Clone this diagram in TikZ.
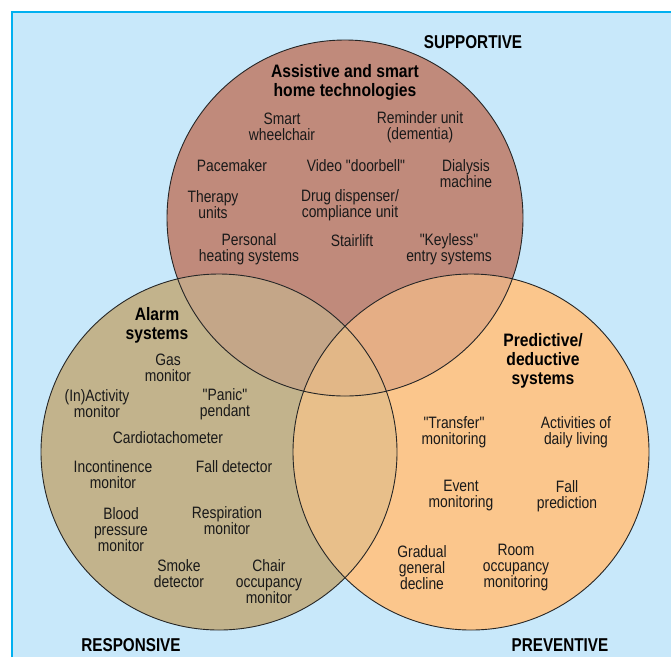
\documentclass[tikz,border=0pt]{standalone}
\usepackage{fontspec}
\setmainfont{Liberation Sans}
\newfontfamily\narrowfont[FakeStretch=0.84]{Liberation Sans}
\newfontfamily\narrowbold[FakeStretch=0.87]{Liberation Sans Bold}
\newfontfamily\cornerbold[FakeStretch=0.82]{Liberation Sans Bold}

\definecolor{panelfill}{HTML}{C8E8FA}
\definecolor{panelline}{HTML}{00B0F0}
\definecolor{supfill}{HTML}{C08A7B}
\definecolor{resfill}{HTML}{C2B38C}
\definecolor{prefill}{HTML}{FBC68C}
\definecolor{supres}{HTML}{C4A688}
\definecolor{suppre}{HTML}{E5AE85}
\definecolor{respre}{HTML}{E8BF8A}
\definecolor{allthree}{HTML}{E2B787}

\tikzset{
  item/.style={align=center, inner sep=0pt, font=\narrowfont\fontsize{16.5}{16}\selectfont, text=black!90},
  heading/.style={align=center, inner sep=0pt, font=\narrowbold\fontsize{18}{19}\selectfont},
  corner/.style={inner sep=0pt, font=\cornerbold\fontsize{18.6}{20}\selectfont},
  ring/.style={draw=black!85, line width=0.9pt},
}

\begin{document}
\begin{tikzpicture}[x=1pt, y=-1pt]
  \useasboundingbox (0,0) rectangle (671,657);

  % panel
  \fill[panelfill] (12,12) rectangle (671,657);
  \draw[panelline, line width=1.5pt] (12,657) -- (12,12) -- (671,12);

  % the three sets
  \coordinate (cs) at (345,218);
  \coordinate (cr) at (219,452);
  \coordinate (cp) at (471,452);
  \def\rad{178pt}

  \fill[supfill] (cs) circle[radius=\rad];
  \fill[resfill] (cr) circle[radius=\rad];
  \fill[prefill] (cp) circle[radius=\rad];
  \begin{scope}
    \clip (cr) circle[radius=\rad];
    \fill[respre] (cp) circle[radius=\rad];
  \end{scope}
  \begin{scope}
    \clip (cs) circle[radius=\rad];
    \fill[supres] (cr) circle[radius=\rad];
    \fill[suppre] (cp) circle[radius=\rad];
    \clip (cr) circle[radius=\rad];
    \fill[allthree] (cp) circle[radius=\rad];
  \end{scope}
  \draw[ring] (cs) circle[radius=\rad];
  \draw[ring] (cr) circle[radius=\rad];
  \draw[ring] (cp) circle[radius=\rad];

  % corner labels
  \node[corner] (lsup) at (473,42.5) {SUPPORTIVE};
  \node[corner] (lres) at (131,645) {RESPONSIVE};
  \node[corner] (lpre) at (560,645) {PREVENTIVE};

  % supportive set
  \node[heading] (hsup) at (345,82) {Assistive and smart\\home technologies};
  \node[item] (s1) at (282,127) {Smart\\wheelchair};
  \node[item] (s2) at (420,127) {Reminder unit\\(dementia)};
  \node[item] (s3) at (232,166) {Pacemaker};
  \node[item] (s4) at (356,166) {Video "doorbell"};
  \node[item] (s5) at (466,174) {Dialysis\\machine};
  \node[item] (s6) at (213,205) {Therapy\\units};
  \node[item] (s7) at (350,205) {Drug dispenser/\\compliance unit};
  \node[item] (s8) at (249,249) {Personal\\heating systems};
  \node[item] (s9) at (352,241) {Stairlift};
  \node[item] (s10) at (449,249) {"Keyless"\\entry systems};

  % responsive set
  \node[heading] (hres) at (157,325) {Alarm\\systems};
  \node[item] (r1) at (168,368) {Gas\\monitor};
  \node[item] (r2) at (97,404) {(In)Activity\\monitor};
  \node[item] (r3) at (225,404) {"Panic"\\pendant};
  \node[item] (r4) at (168,438) {Cardiotachometer};
  \node[item] (r5) at (113,475) {Incontinence\\monitor};
  \node[item] (r6) at (234,467) {Fall detector};
  \node[item] (r7) at (121,530) {Blood\\pressure\\monitor};
  \node[item] (r8) at (227,521) {Respiration\\monitor};
  \node[item] (r9) at (179,574) {Smoke\\detector};
  \node[item] (r10) at (269,582) {Chair\\occupancy\\monitor};

  % preventive set
  \node[heading] (hpre) at (543,361) {Predictive/\\deductive\\systems};
  \node[item] (p1) at (454,432) {"Transfer"\\monitoring};
  \node[item] (p2) at (576,432) {Activities of\\daily living};
  \node[item] (p3) at (461,496) {Event\\monitoring};
  \node[item] (p4) at (567,496) {Fall\\prediction};
  \node[item] (p5) at (422,568) {Gradual\\general\\decline};
  \node[item] (p6) at (516,568) {Room\\occupancy\\monitoring};
\end{tikzpicture}
\end{document}
